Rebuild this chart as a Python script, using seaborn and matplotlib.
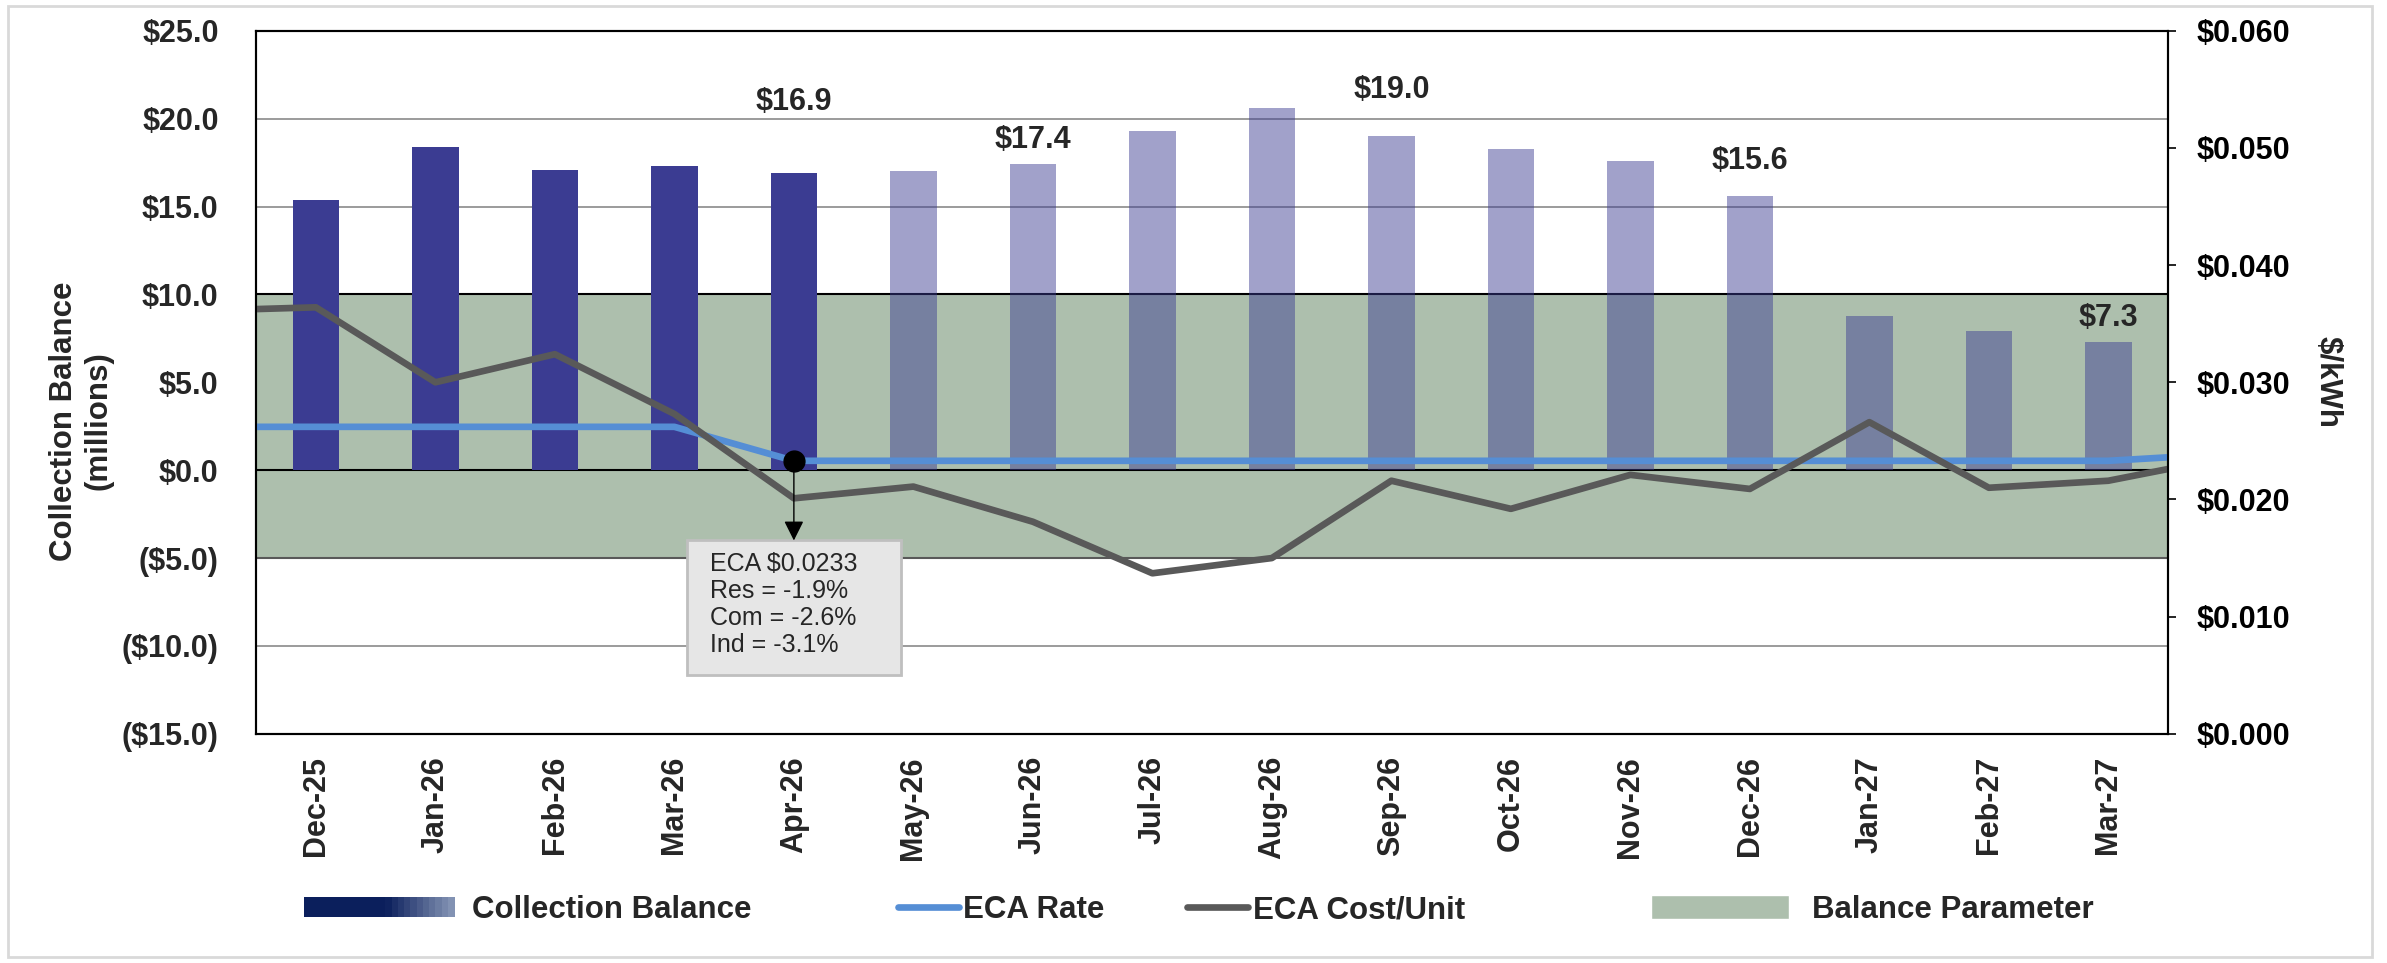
import numpy as np
import pandas as pd
import matplotlib
matplotlib.use('Agg')
import matplotlib.pyplot as plt
import seaborn as sns
from matplotlib.patches import Rectangle, Patch
from matplotlib.lines import Line2D
from matplotlib.legend_handler import HandlerBase
from matplotlib.ticker import FuncFormatter, MultipleLocator
from matplotlib.colors import to_rgb

# monthly collection balance ($ millions), first five months are actuals
months = ['Dec-25', 'Jan-26', 'Feb-26', 'Mar-26', 'Apr-26', 'May-26', 'Jun-26', 'Jul-26',
          'Aug-26', 'Sep-26', 'Oct-26', 'Nov-26', 'Dec-26', 'Jan-27', 'Feb-27', 'Mar-27']
balance = [15.4, 18.4, 17.1, 17.3, 16.9, 17.0, 17.4, 19.3, 20.6, 19.0, 18.3, 17.6, 15.6, 8.8, 7.9, 7.3]
status = ['Actual'] * 5 + ['Forecast'] * 11

# rate lines ($/kWh) incl. the neighbouring months that run off the plot edges
ext_months = ['Nov-25'] + months + ['Apr-27']
eca_rate = [0.0262, 0.0262, 0.0262, 0.0262, 0.0262, 0.0233, 0.0233, 0.0233, 0.0233, 0.0233,
            0.0233, 0.0233, 0.0233, 0.0233, 0.0233, 0.0233, 0.0233, 0.0239]
eca_cost = [0.0361, 0.0364, 0.0300, 0.0324, 0.0273, 0.0201, 0.0211, 0.0181, 0.0137, 0.0150,
            0.0216, 0.0192, 0.0221, 0.0209, 0.0266, 0.0210, 0.0216, 0.0236]

# labelled bars and where the label sits (left axis units)
label_months = ['Apr-26', 'Jun-26', 'Sep-26', 'Dec-26', 'Mar-27']
label_y = [20.95, 18.8, 21.65, 17.6, 8.65]

band_low, band_high = -5, 10
callout_month = 'Apr-26'
callout_text = 'ECA $0.0233\nRes = -1.9%\nCom = -2.6%\nInd = -3.1%'

DARK = '#3b3c92'
RATE_C = '#558ed5'
COST_C = '#595959'
BAND_C = '#adbfad'
FS = 22

sns.set_style('white')
plt.rcParams['font.family'] = ['Liberation Sans', 'DejaVu Sans']

fig, ax = plt.subplots(figsize=(23.87, 9.63), dpi=100)
fig.subplots_adjust(left=0.1073, right=0.9083, top=0.968, bottom=0.238)

df = pd.DataFrame({'month': months, 'balance': balance, 'status': status})

ax.axhspan(band_low, band_high, color=BAND_C, zorder=0, lw=0)
for g in [15, 20, -10]:
    ax.axhline(g, color='#808080', lw=1.1, zorder=1)
ax.axhline(band_high, color='black', lw=1.5, zorder=1)
ax.axhline(0, color='black', lw=1.5, zorder=1)
ax.axhline(band_low, color='#595959', lw=1.5, zorder=1)

sns.barplot(data=df[df.status == 'Actual'], x='month', y='balance', order=months,
            color=DARK, saturation=1, width=0.39, errorbar=None, ax=ax, zorder=3,
            linewidth=0, edgecolor='none')
sns.barplot(data=df[df.status == 'Forecast'], x='month', y='balance', order=months,
            color=DARK, saturation=1, width=0.39, errorbar=None, ax=ax, zorder=3, alpha=0.48,
            linewidth=0, edgecolor='none')

for m, ly in zip(label_months, label_y):
    v = balance[months.index(m)]
    ax.text(months.index(m), ly, f'${v:.1f}', ha='center', va='center',
            fontsize=FS, fontweight='bold', zorder=6)

ax.set_ylim(-15, 25)
ax.set_xlim(-0.5, len(months) - 0.5)
ax.yaxis.set_major_locator(MultipleLocator(5))
ax.yaxis.set_major_formatter(FuncFormatter(lambda v, p: f'${v:.1f}' if v >= 0 else f'(${-v:.1f})'))
ax.set_xlabel('')
ax.set_ylabel('Collection Balance\n(millions)', fontsize=22.5, fontweight='bold')
ax.yaxis.set_label_coords(-0.0748, 0.445)
ax.tick_params(axis='y', length=0, pad=27, labelsize=FS)
ax.tick_params(axis='x', length=0, pad=16, labelsize=FS, rotation=90)
for lab in ax.get_yticklabels() + ax.get_xticklabels():
    lab.set_fontweight('bold')
for s in ax.spines.values():
    s.set_color('black')
    s.set_linewidth(1.5)

# secondary axis: rates
ax2 = ax.twinx()
x_ext = np.arange(-1, len(months) + 1)
sns.lineplot(x=x_ext, y=eca_rate, ax=ax2, color=RATE_C, lw=4.8, legend=False)
sns.lineplot(x=x_ext, y=eca_cost, ax=ax2, color=COST_C, lw=4.8, legend=False)
ci = months.index(callout_month)
rate_at = eca_rate[ext_months.index(callout_month)]
ax2.scatter([ci], [rate_at], s=225, color='black', zorder=6)
ax2.set_xlim(-0.5, len(months) - 0.5)
ax2.set_ylim(0, 0.06)
ax2.yaxis.set_major_locator(MultipleLocator(0.01))
ax2.yaxis.set_major_formatter(FuncFormatter(lambda v, p: f'${v:.3f}'))
ax2.tick_params(axis='y', length=5.8, width=1.2, pad=15, labelsize=FS, colors='black')
for lab in ax2.get_yticklabels():
    lab.set_fontweight('bold')
ax2.set_ylabel('$/kWh', fontsize=22.5, fontweight='bold', rotation=270)
ax2.yaxis.set_label_coords(1.0915, 0.5)
for s in ax2.spines.values():
    s.set_color('black')
    s.set_linewidth(1.5)

# callout box with arrow
box_top, box_bot, half_w = -4.0, -11.66, 0.895
ax2.annotate('', xy=(ci, box_top), xycoords=ax.transData,
             xytext=(ci, rate_at), textcoords=ax2.transData,
             arrowprops=dict(arrowstyle='-|>', color='black', lw=1, mutation_scale=30,
                             shrinkA=0, shrinkB=0), zorder=7)
ax2.add_patch(Rectangle((ci - half_w, box_bot), 2 * half_w, box_top - box_bot,
                        transform=ax.transData, facecolor='#e6e6e6', edgecolor='#bfbfbf',
                        lw=2, zorder=6))
ax2.text(ci - 0.70, -4.66, callout_text, transform=ax.transData, ha='left', va='top',
         fontsize=18, linespacing=1.15, zorder=8)


class GradientHandler(HandlerBase):
    def create_artists(self, legend, orig_handle, xdescent, ydescent, width, height, fontsize, trans):
        c0 = np.array(to_rgb('#0b1f5c'))
        c1 = np.array(to_rgb('#8292b3'))
        n = 24
        arts = []
        for i in range(n):
            f = i / (n - 1)
            t = 0 if f < 0.55 else (f - 0.55) / 0.45
            col = c0 + (c1 - c0) * t
            arts.append(Rectangle((-xdescent + i * width / n, -ydescent), width / n + 0.3, height,
                                  facecolor=col, edgecolor='none', transform=trans))
        return arts


leg_y = 1 - 910 / 963
items = [
    (Patch(), 'Collection Balance', 0.1274, 4.8, 0.58, 0.65),
    (Line2D([], [], color=RATE_C, lw=4.8), 'ECA Rate', 0.3762, 1.95, 0.13, 0.7),
    (Line2D([], [], color=COST_C, lw=4.8), 'ECA Cost/Unit', 0.4973, 1.95, 0.16, 0.7),
    (Patch(facecolor=BAND_C), 'Balance Parameter', 0.6917, 4.4, 0.74, 0.83),
]
for h, lab, lx, hl, tp, hh in items:
    kw = {'handler_map': {Patch: GradientHandler()}} if lab == 'Collection Balance' else {}
    fig.legend([h], [lab], loc='center left', bbox_to_anchor=(lx, leg_y), frameon=False,
               handlelength=hl, handletextpad=tp, handleheight=hh, borderpad=0, borderaxespad=0,
               prop={'size': 22.5, 'weight': 'bold'}, **kw)

fig.add_artist(Rectangle((8 / 2387, 6 / 963), (2372 - 8) / 2387, (957 - 6) / 963,
                         transform=fig.transFigure, fill=False, edgecolor='#d9d9d9', lw=2))

fig.savefig('out.png', dpi=100)
